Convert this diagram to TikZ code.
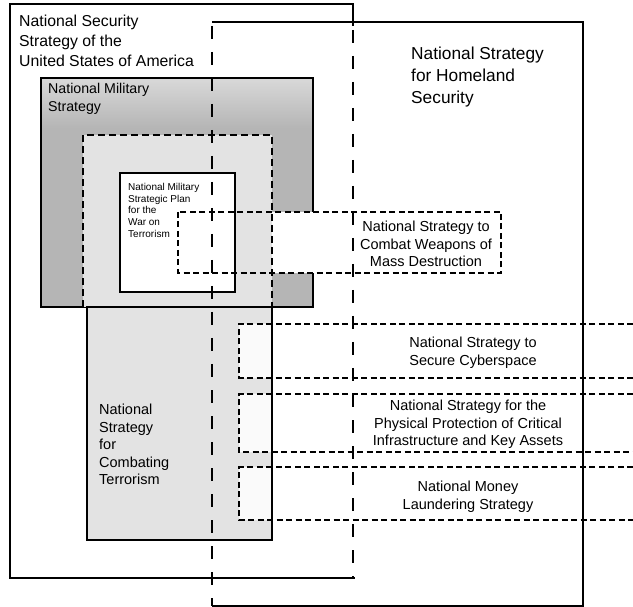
\documentclass[tikz,border=0pt]{standalone}
\usepackage{fontspec}
\setmainfont{Liberation Sans}
\begin{document}
\begin{tikzpicture}[x=1pt,y=-1pt,
  solidline/.style={line width=1.1pt, black},
  longdash/.style={line width=1.1pt, dash pattern=on 13pt off 13pt},
  shortdash/.style={line width=1.3pt, dash pattern=on 6pt off 3.5pt},
  heavydash/.style={line width=1.7pt, dash pattern=on 7pt off 4pt},
  lbl/.style={inner sep=0pt, align=left, anchor=north west},
  clbl/.style={inner sep=0pt, align=center, anchor=north, font=\fontsize{14.5}{17.5}\selectfont},
  lightbox/.style={fill=white, fill opacity=0.85}]
\useasboundingbox[fill=white] (0,0) rectangle (633,607);

% National Military Strategy (shaded)
\fill[gray!58] (41,78) rectangle (313,307);
\shade[top color=gray!30, bottom color=gray!58] (41,78) rectangle (313,128);
\draw[solidline] (41,78) rectangle (313,307);

% WMD box fill
\fill[white] (178,212) rectangle (501,273);

% National Strategy for Combating Terrorism (fill)
\fill[gray!22] (83,135) rectangle (272,307);
\fill[gray!22] (87,307) rectangle (272,540);
\draw[heavydash] (83,307) -- (83,135) -- (272,135) -- (272,307);

% National Military Strategic Plan for the WOT
\draw[solidline, fill=white] (120,173) rectangle (235,292);

% open dashed boxes on the right
\fill[lightbox] (239,324) rectangle (633,378);
\fill[lightbox] (239,394) rectangle (633,452);
\fill[lightbox] (239,467) rectangle (633,520);

% National Strategy for Combating Terrorism (border)
\draw[solidline] (87,307) rectangle (272,540);

\draw[shortdash] (633,324) -- (239,324) -- (239,378) -- (633,378);
\draw[shortdash] (633,394) -- (239,394) -- (239,452) -- (633,452);
\draw[shortdash] (633,467) -- (239,467) -- (239,520) -- (633,520);

% WMD dashed border
\draw[shortdash] (178,212) rectangle (501,273);

% National Security Strategy box
\draw[solidline] (353,26) -- (353,4) -- (10,4) -- (10,578) -- (355,578);
\draw[longdash] (353,30) -- (353,578);

% National Strategy for Homeland Security box
\draw[solidline] (212,22) -- (583,22) -- (583,606) -- (212,606);
\draw[longdash] (212,26) -- (212,606);

% labels
\node[lbl, font=\fontsize{15.8}{19.8}\selectfont] (nss) at (19,15)
  {National Security\\Strategy of the\\United States of America};
\node[lbl, font=\fontsize{17.3}{22}\selectfont] (nshs) at (411,47)
  {National Strategy\\for Homeland\\Security};
\node[lbl, font=\fontsize{14.2}{18}\selectfont] (nms) at (48,83)
  {National Military\\Strategy};
\node[lbl, font=\fontsize{10}{11.7}\selectfont] (nmsp) at (128,183)
  {National Military\\Strategic Plan\\for the\\War on\\Terrorism};
\node[lbl, font=\fontsize{14.5}{17.5}\selectfont] (nsct) at (99,404)
  {National\\Strategy\\for\\Combating\\Terrorism};
\node[clbl] (wmd) at (426,221)
  {National Strategy to\\Combat Weapons of\\Mass Destruction};
\node[clbl] (cyber) at (473,337)
  {National Strategy to\\Secure Cyberspace};
\node[clbl] (cip) at (468,400)
  {National Strategy for the\\Physical Protection of Critical\\Infrastructure and Key Assets};
\node[clbl] (money) at (468,481)
  {National Money\\Laundering Strategy};
\end{tikzpicture}
\end{document}
